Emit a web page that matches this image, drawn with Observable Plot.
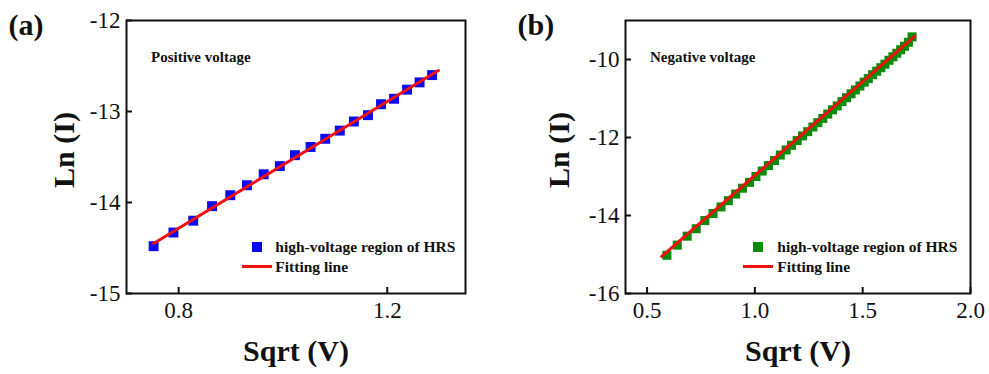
<!DOCTYPE html>
<html><head><meta charset="utf-8">
<script src="https://cdn.jsdelivr.net/npm/d3@7"></script>
<script src="https://cdn.jsdelivr.net/npm/@observablehq/plot@0.6"></script>
<style>
body{margin:0;background:#fff;}
#wrap{position:relative;width:989px;height:374px;display:flex;font-family:"Liberation Serif","Times New Roman",serif;}
#wrap svg{overflow:visible;}
.lt{position:absolute;font-weight:bold;font-size:15.5px;color:#111;white-space:nowrap;line-height:1;font-family:"Liberation Serif","Times New Roman",serif;}
.sq{position:absolute;width:10px;height:10px;}
.ln{position:absolute;height:3px;background:#f01010;}
</style></head><body><div id="wrap"></div>
<script>
// Panel (a): positive voltage
const posX = [0.752,0.790,0.828,0.864,0.899,0.931,0.963,0.994,1.023,1.053,1.081,1.109,1.136,1.163,1.188,1.213,1.238,1.262,1.286];
const posY = [-14.48,-14.33,-14.20,-14.04,-13.92,-13.81,-13.69,-13.60,-13.48,-13.39,-13.30,-13.21,-13.11,-13.04,-12.92,-12.86,-12.76,-12.68,-12.60];
const posFitX = [0.752,1.298];
const posFitY = [-14.45,-12.55];
const posXTicks = [0.8,1.2];
const posYTicks = [-15,-14,-13,-12];

// Panel (b): negative voltage
const negX = [0.592,0.640,0.686,0.728,0.768,0.806,0.843,0.877,0.911,0.943,0.975,1.005,1.034,1.063,1.091,1.118,1.145,1.170,1.196,1.221,1.245,1.269,1.292,1.315,1.338,1.360,1.382,1.404,1.425,1.446,1.466,1.487,1.507,1.526,1.546,1.565,1.584,1.603,1.622,1.640,1.658,1.676,1.694,1.712,1.729];
const negY = [-15.02,-14.76,-14.53,-14.34,-14.13,-13.95,-13.78,-13.62,-13.45,-13.30,-13.15,-13.00,-12.86,-12.72,-12.59,-12.45,-12.32,-12.20,-12.08,-11.96,-11.85,-11.73,-11.62,-11.51,-11.40,-11.29,-11.19,-11.08,-10.98,-10.88,-10.78,-10.68,-10.58,-10.49,-10.39,-10.30,-10.21,-10.12,-10.02,-9.93,-9.84,-9.75,-9.66,-9.56,-9.42];
const negFitX = [0.568,1.742];
const negFitY = [-15.05,-9.40];
const negXTicks = [0.5,1.0,1.5,2.0];
const negYTicks = [-16,-14,-12,-10];

const xTitle = "Sqrt (V)";
const yTitle = "Ln (I)";
const legendLabels = ["high-voltage region of HRS","Fitting line"];

function panel(o){
  const pts = o.xs.map((x,i)=>({x, y:o.ys[i]}));
  const fit = o.fx.map((x,i)=>({x, y:o.fy[i]}));
  return Plot.plot({
    width:o.width, height:374,
    marginLeft:o.ml, marginRight:o.mr, marginTop:20, marginBottom:81,
    style:{fontFamily:'"Liberation Serif","Times New Roman",serif', color:"#111", background:"#fff"},
    x:{domain:o.xd}, y:{domain:o.yd},
    marks:[
      Plot.dot(pts,{x:"x",y:"y",symbol:"square",r:o.r,fill:o.color,stroke:"none"}),
      Plot.line(fit,{x:"x",y:"y",stroke:"#f01010",strokeWidth:3}),
      Plot.frame({stroke:"#111",strokeWidth:2}),
      Plot.axisX({ticks:o.xt, tickSize:-6, tickPadding:14, strokeWidth:2, fontSize:23, tickFormat:d3.format(".1f"), label:null}),
      Plot.axisY({ticks:o.yt, tickSize:-6, tickPadding:12, strokeWidth:2, fontSize:23, tickFormat:d=>String(d), label:null}),
      Plot.text([xTitle],{frameAnchor:"bottom",dy:58,lineAnchor:"middle",textAnchor:"middle",fontSize:30,fontWeight:"bold",text:d=>d,fill:"#111"}),
      Plot.text([yTitle],{frameAnchor:"left",dx:o.ydx,dy:-7,rotate:-90,lineAnchor:"middle",textAnchor:"middle",fontSize:30,fontWeight:"bold",text:d=>d,fill:"#111"}),
      Plot.text([o.tag],{frameAnchor:"top-left",dx:o.tagdx,dy:5,lineAnchor:"middle",textAnchor:"start",fontSize:30,fontWeight:"bold",text:d=>d,fill:"#111"}),
      Plot.text([o.note],{frameAnchor:"top-left",dx:24.5,dy:37,lineAnchor:"middle",textAnchor:"start",fontSize:15,fontWeight:"bold",text:d=>d,fill:"#111"})
    ]
  });
}

const wrap = document.getElementById("wrap");
wrap.append(panel({width:494, ml:126, mr:29, xd:[0.7,1.35], yd:[-15,-12], xs:posX, ys:posY, fx:posFitX, fy:posFitY, xt:posXTicks, yt:posYTicks, color:"#0a0af5", r:5.6, ydx:-62.5, tag:"(a)", tagdx:-118, note:"Positive voltage"}));
wrap.append(panel({width:495, ml:131, mr:19, xd:[0.4,2.0], yd:[-16,-9], xs:negX, ys:negY, fx:negFitX, fy:negFitY, xt:negXTicks, yt:negYTicks, color:"#0a8c0a", r:5.1, ydx:-66, tag:"(b)", tagdx:-108, note:"Negative voltage"}));

// legends (HTML overlay)
function legend(sqx, sqy, color, lineX1, lineX2, lineY, textX, b1, b2){
  const s = document.createElement("div"); s.className="sq"; s.style.left=(sqx-5)+"px"; s.style.top=(sqy-5)+"px"; s.style.background=color; wrap.append(s);
  const l = document.createElement("div"); l.className="ln"; l.style.left=lineX1+"px"; l.style.width=(lineX2-lineX1)+"px"; l.style.top=(lineY-1.5)+"px"; wrap.append(l);
  const t1 = document.createElement("div"); t1.className="lt"; t1.textContent=legendLabels[0]; t1.style.left=textX+"px"; t1.style.top=(b1-13)+"px"; wrap.append(t1);
  const t2 = document.createElement("div"); t2.className="lt"; t2.textContent=legendLabels[1]; t2.style.left=textX+"px"; t2.style.top=(b2-13)+"px"; wrap.append(t2);
}
legend(256.7,246.7,"#0a0af5",241.7,271.7,266.7,275.3,252.3,271.7);
legend(758.3,247.3,"#0a8c0a",742.7,773.3,266.7,777.3,252.3,271.7);
</script></body></html>
